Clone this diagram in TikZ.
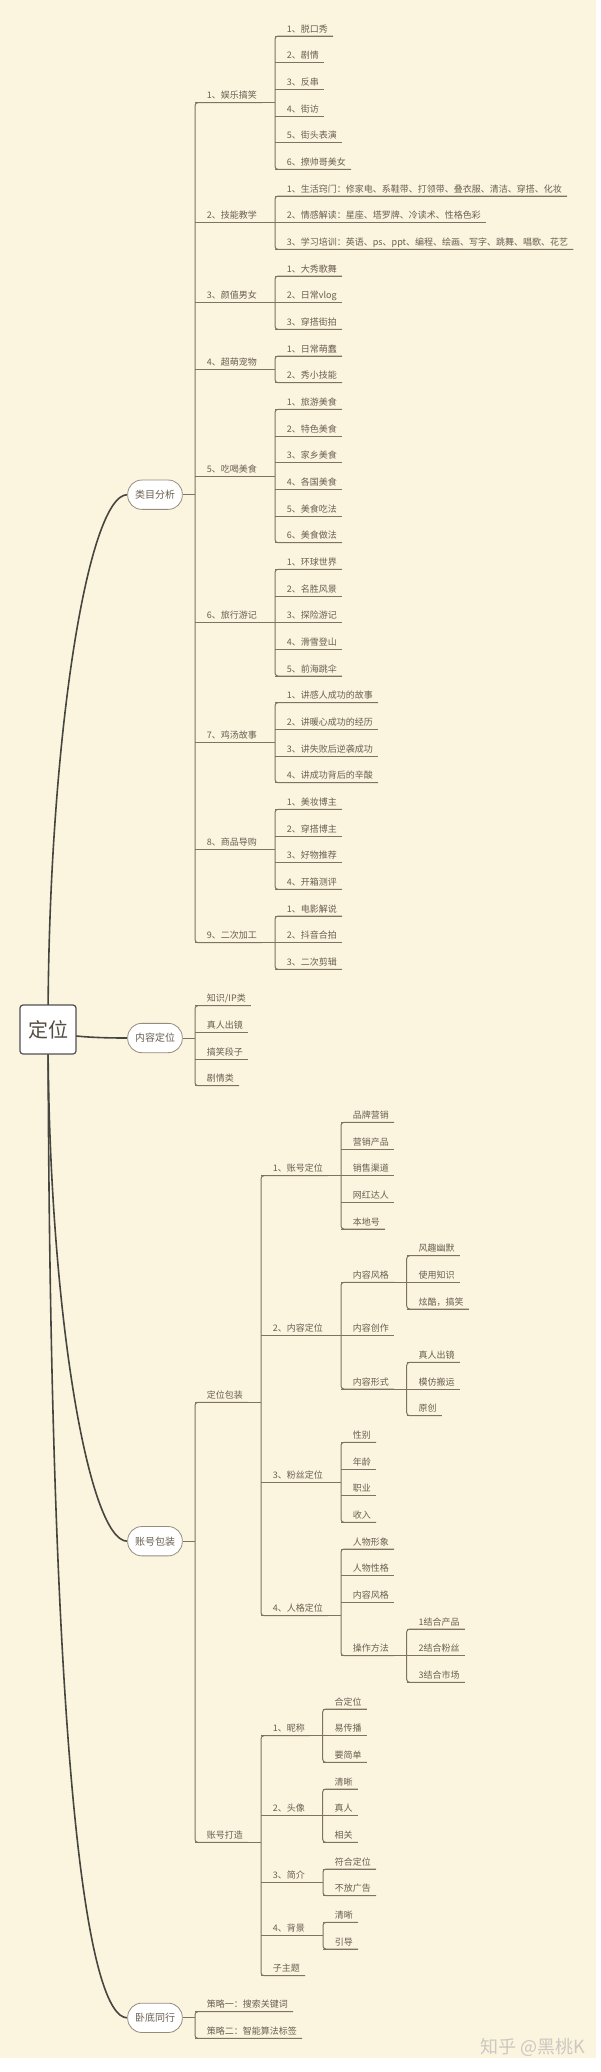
\documentclass[tikz,border=0pt]{standalone}
\usepackage{fontspec}
\newfontfamily\cjk{Noto Sans CJK SC}
\usetikzlibrary{calc,backgrounds}
\definecolor{bgc}{RGB}{251,244,223}
\definecolor{txtc}{RGB}{105,95,80}
\definecolor{linec}{RGB}{125,115,95}
\definecolor{curvec}{RGB}{70,70,65}
\definecolor{boxc}{RGB}{150,140,125}
\definecolor{rootc}{RGB}{80,80,80}
\definecolor{wmc}{RGB}{205,200,192}
\tikzset{
  leaf/.style={font=\cjk\fontsize{9}{10}\selectfont, text=txtc, anchor=south west,
    inner xsep=0pt, inner ysep=3.5pt, text depth=0pt, text height=7pt},
  ln/.style={draw=linec, line width=1pt},
  mainbox/.style={draw=boxc, fill=white, line width=0.8pt, rounded corners=14pt,
    minimum width=54.6pt, minimum height=29.3pt, inner sep=0pt,
    font=\cjk\fontsize{10}{12}\selectfont, text=txtc},
  rootbox/.style={draw=rootc, fill=white, line width=1.2pt, rounded corners=3pt,
    minimum width=56pt, minimum height=49pt, inner sep=0pt,
    font=\cjk\fontsize{20}{22}\selectfont, text=txtc!80!black},
  curve/.style={draw=curvec, line width=1.6pt},
}
\newcommand\lf[4]{\node[leaf] (#1) at (#2,#3) {\kern11.7pt #4\kern5pt};
  \draw[ln] (#1.south west) -- (#1.south east);}
\newcommand\br[2]{\draw[ln, rounded corners=3pt] (#1.south east) -- (#1.south west) -- (#2.south west) -- (#2.south east);}
\newcommand\pc[2]{\draw[ln] (#1.south east) -- (#1.south east -| #2.south west);}
\begin{document}
\begin{tikzpicture}[x=1pt,y=-1pt]
\useasboundingbox (0,0) rectangle (600,2072);
\begin{pgfonlayer}{background}
\fill[white] (0,0) rectangle (600,2072);
\fill[bgc] (0,0) rectangle (596,2058);
\end{pgfonlayer}

% root
\node[rootbox] (root) at (48,1029.5) {定位};

% ===== 类目分析 =====
\node[mainbox] (lm) at (155,494.7) {类目分析};
\lf{a1}{195}{102.67}{1、娱乐搞笑}
\lf{a11}{275}{36}{1、脱口秀}
\lf{a12}{275}{62.67}{2、剧情}
\lf{a13}{275}{89.33}{3、反串}
\lf{a14}{275}{116}{4、街访}
\lf{a15}{275}{142.67}{5、街头表演}
\lf{a16}{275}{169.33}{6、撩帅哥美女}
\br{a11}{a16}\pc{a1}{a11}

\lf{a2}{195}{222.67}{2、技能教学}
\lf{a21}{275}{196}{1、生活窍门：修家电、系鞋带、打领带、叠衣服、清洁、穿搭、化妆}
\lf{a22}{275}{222.67}{2、情感解读：星座、塔罗牌、冷读术、性格色彩}
\lf{a23}{275}{249.33}{3、学习培训：英语、ps、ppt、编程、绘画、写字、跳舞、唱歌、花艺}
\br{a21}{a23}\pc{a2}{a21}

\lf{a3}{195}{302.67}{3、颜值男女}
\lf{a31}{275}{276}{1、大秀歌舞}
\lf{a32}{275}{302.67}{2、日常vlog}
\lf{a33}{275}{329.33}{3、穿搭街拍}
\br{a31}{a33}\pc{a3}{a31}

\lf{a4}{195}{369.33}{4、超萌宠物}
\lf{a41}{275}{356}{1、日常萌蠢}
\lf{a42}{275}{382.67}{2、秀小技能}
\br{a41}{a42}\pc{a4}{a41}

\lf{a5}{195}{476}{5、吃喝美食}
\lf{a51}{275}{409.33}{1、旅游美食}
\lf{a52}{275}{436}{2、特色美食}
\lf{a53}{275}{462.67}{3、家乡美食}
\lf{a54}{275}{489.33}{4、各国美食}
\lf{a55}{275}{516}{5、美食吃法}
\lf{a56}{275}{542.67}{6、美食做法}
\br{a51}{a56}\pc{a5}{a51}

\lf{a6}{195}{622.67}{6、旅行游记}
\lf{a61}{275}{569.33}{1、环球世界}
\lf{a62}{275}{596}{2、名胜风景}
\lf{a63}{275}{622.67}{3、探险游记}
\lf{a64}{275}{649.33}{4、滑雪登山}
\lf{a65}{275}{676}{5、前海跳伞}
\br{a61}{a65}\pc{a6}{a61}

\lf{a7}{195}{742.67}{7、鸡汤故事}
\lf{a71}{275}{702.67}{1、讲感人成功的故事}
\lf{a72}{275}{729.33}{2、讲暖心成功的经历}
\lf{a73}{275}{756}{3、讲失败后逆袭成功}
\lf{a74}{275}{782.67}{4、讲成功背后的辛酸}
\br{a71}{a74}\pc{a7}{a71}

\lf{a8}{195}{849.33}{8、商品导购}
\lf{a81}{275}{809.33}{1、美妆博主}
\lf{a82}{275}{836}{2、穿搭博主}
\lf{a83}{275}{862.67}{3、好物推荐}
\lf{a84}{275}{889.33}{4、开箱测评}
\br{a81}{a84}\pc{a8}{a81}

\lf{a9}{195}{942.67}{9、二次加工}
\lf{a91}{275}{916}{1、电影解说}
\lf{a92}{275}{942.67}{2、抖音合拍}
\lf{a93}{275}{969.33}{3、二次剪辑}
\br{a91}{a93}\pc{a9}{a91}

\br{a1}{a9}
\draw[ln] (lm.east) -- (lm.east -| a1.south west);

% ===== 内容定位 =====
\node[mainbox] (nr) at (155,1038) {内容定位};
\lf{b1}{195}{1005.67}{知识/IP类}
\lf{b2}{195}{1032.33}{真人出镜}
\lf{b3}{195}{1059}{搞笑段子}
\lf{b4}{195}{1085.67}{剧情类}
\br{b1}{b4}
\draw[ln] (nr.east) -- (nr.east -| b1.south west);

% ===== 账号包装 =====
\node[mainbox] (zh) at (155,1541.2) {账号包装};
\lf{c1}{195}{1402.33}{定位包装}
\lf{c2}{195}{1842.33}{账号打造}
\br{c1}{c2}
\draw[ln] (zh.east) -- (zh.east -| c1.south west);

\lf{c11}{261}{1175.67}{1、账号定位}
\lf{c12}{261}{1335.67}{2、内容定位}
\lf{c13}{261}{1482.33}{3、粉丝定位}
\lf{c14}{261}{1615.67}{4、人格定位}
\br{c11}{c14}\pc{c1}{c11}

\lf{c111}{341}{1122.33}{品牌营销}
\lf{c112}{341}{1149}{营销产品}
\lf{c113}{341}{1175.67}{销售渠道}
\lf{c114}{341}{1202.33}{网红达人}
\lf{c115}{341}{1229}{本地号}
\br{c111}{c115}\pc{c11}{c111}

\lf{c121}{341}{1282.33}{内容风格}
\lf{c122}{341}{1335.67}{内容创作}
\lf{c123}{341}{1389}{内容形式}
\br{c121}{c123}\pc{c12}{c121}

\lf{c1211}{406.7}{1255.67}{风趣幽默}
\lf{c1212}{406.7}{1282.33}{使用知识}
\lf{c1213}{406.7}{1309}{炫酷，搞笑}
\br{c1211}{c1213}\pc{c121}{c1211}

\lf{c1231}{406.7}{1362.33}{真人出镜}
\lf{c1232}{406.7}{1389}{模仿搬运}
\lf{c1233}{406.7}{1415.67}{原创}
\br{c1231}{c1233}\pc{c123}{c1231}

\lf{c131}{341}{1442.33}{性别}
\lf{c132}{341}{1469}{年龄}
\lf{c133}{341}{1495.67}{职业}
\lf{c134}{341}{1522.33}{收入}
\br{c131}{c134}\pc{c13}{c131}

\lf{c141}{341}{1549}{人物形象}
\lf{c142}{341}{1575.67}{人物性格}
\lf{c143}{341}{1602.33}{内容风格}
\lf{c144}{341}{1655.67}{操作方法}
\br{c141}{c144}\pc{c14}{c141}

\lf{c1441}{406.7}{1629}{1结合产品}
\lf{c1442}{406.7}{1655.67}{2结合粉丝}
\lf{c1443}{406.7}{1682.33}{3结合市场}
\br{c1441}{c1443}\pc{c144}{c1441}

\lf{c21}{261}{1735.67}{1、昵称}
\lf{c22}{261}{1815.67}{2、头像}
\lf{c23}{261}{1882.33}{3、简介}
\lf{c24}{261}{1935.67}{4、背景}
\lf{c25}{261}{1975.67}{子主题}
\br{c21}{c25}\pc{c2}{c21}

\lf{c211}{322.7}{1709}{合定位}
\lf{c212}{322.7}{1735.67}{易传播}
\lf{c213}{322.7}{1762.33}{要简单}
\br{c211}{c213}\pc{c21}{c211}

\lf{c221}{322.7}{1789}{清晰}
\lf{c222}{322.7}{1815.67}{真人}
\lf{c223}{322.7}{1842.33}{相关}
\br{c221}{c223}\pc{c22}{c221}

\lf{c231}{323}{1869}{符合定位}
\lf{c232}{323}{1895.67}{不放广告}
\br{c231}{c232}\pc{c23}{c231}

\lf{c241}{323}{1922.33}{清晰}
\lf{c242}{323}{1949}{引导}
\br{c241}{c242}\pc{c24}{c241}

% ===== 卧底同行 =====
\node[mainbox] (wd) at (155,2017.8) {卧底同行};
\lf{d1}{195}{2011.67}{策略一：搜索关键词}
\lf{d2}{195}{2038.33}{策略二：智能算法标签}
\br{d1}{d2}
\draw[ln] (wd.east) -- (wd.east -| d1.south west);

% root curves
\begin{pgfonlayer}{background}
\draw[curve] (root.center) .. controls (48,740) and (88,494.7) .. (lm.west);
\draw[curve] (root.center) .. controls (60,1036) and (90,1038) .. (nr.west);
\draw[curve] (root.center) .. controls (48,1305) and (88,1541.2) .. (zh.west);
\draw[curve] (root.center) .. controls (50,1800) and (90,2017.8) .. (wd.west);
\end{pgfonlayer}

% watermark
\node[font=\cjk\fontsize{18}{18}\selectfont, text=wmc] (wm) at (533,2047) {知乎 @黑桃K};
\end{tikzpicture}
\end{document}
